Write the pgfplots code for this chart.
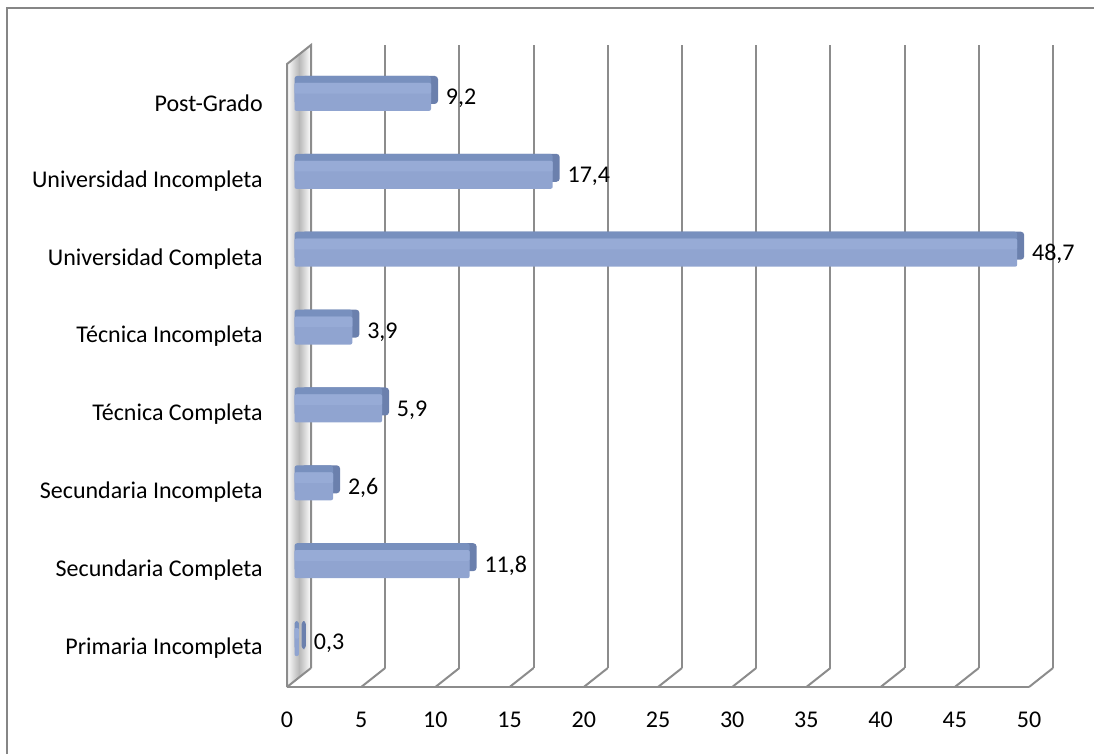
\documentclass[border=0pt]{standalone}
\usepackage{pgfplots}
\pgfplotsset{compat=1.18}
\usetikzlibrary{calc}
\usepackage{fontspec}
\setmainfont{Carlito}
\definecolor{gridgray}{HTML}{8C8C8C}
\definecolor{bordergray}{HTML}{868686}
\definecolor{barface}{HTML}{90A4D0}
\definecolor{barhigh}{HTML}{97ABD6}
\definecolor{beveltop}{HTML}{7890BE}
\definecolor{bevelend}{HTML}{6B80AD}
\begin{document}
\fontsize{18}{21.6}\selectfont
\begin{tikzpicture}
\path[use as bounding box] (0,0) rectangle (820.5pt,565.5pt);
\draw[bordergray, line width=1.7pt] (5.25pt,0) -- (5.25pt,559.5pt) -- (821pt,559.5pt);
\begin{axis}[
  at={(215.25pt,50.25pt)}, anchor=south west,
  scale only axis, width=556.5pt, height=467.25pt,
  xmin=0, xmax=50, ymin=-0.5, ymax=7.5,
  clip=false,
  axis x line*=bottom, axis y line*=left,
  axis line style={draw=none},
  major tick length=0pt, tick style={draw=none},
  xticklabel shift=0pt, yticklabel shift=0pt,
  /pgf/number format/assume math mode=true,
  xtick={0,5,...,50},
  ytick={0,1,...,7},
  yticklabels={Primaria Incompleta, Secundaria Completa, Secundaria Incompleta, Técnica Completa, Técnica Incompleta, Universidad Completa, Universidad Incompleta, Post-Grado},
  xticklabel style={inner sep=0pt, anchor=north, yshift=-18.75pt},
  yticklabel style={inner sep=0pt, anchor=east, xshift=-18pt},
  tick label style={font=\fontsize{18}{21.6}\selectfont, text=black},
]
% left wall
\fill[left color=white, right color=white, middle color=black!28]
  (axis cs:0,-0.5) -- (axis cs:0,7.5) -- ($(axis cs:0,7.5)+(18pt,14.25pt)$) -- ($(axis cs:0,-0.5)+(18pt,14.25pt)$) -- cycle;
\draw[gridgray, line width=1.5pt]
  (axis cs:0,-0.5) -- (axis cs:0,7.5) -- ($(axis cs:0,7.5)+(18pt,14.25pt)$) -- ($(axis cs:0,-0.5)+(18pt,14.25pt)$);
% gridlines
\pgfplotsinvokeforeach{5,10,...,50}{
  \draw[gridgray, line width=1.5pt] ($(axis cs:#1,-0.5)+(18pt,14.25pt)$) -- ($(axis cs:#1,7.5)+(18pt,14.25pt)$);
}
% bars: end face
\addplot[xbar, bar width=21pt, bar shift=0pt, xshift=10.875pt, yshift=9.75pt,
  fill=bevelend, draw=none, rounded corners=2.5pt, forget plot]
  coordinates {(0.3,0) (11.8,1) (2.6,2) (5.9,3) (3.9,4) (48.7,5) (17.4,6) (9.2,7)};
% bars: top face
\addplot[xbar, bar width=21pt, bar shift=0pt, xshift=5.625pt, yshift=9.75pt,
  fill=beveltop, draw=none, rounded corners=2pt, forget plot]
  coordinates {(0.3,0) (11.8,1) (2.6,2) (5.9,3) (3.9,4) (48.7,5) (17.4,6) (9.2,7)};
% bars: front faces
\addplot[xbar, bar width=21pt, bar shift=0pt, xshift=5.625pt, yshift=4.5pt,
  fill=barface, draw=none, rounded corners=1.5pt, forget plot]
  coordinates {(0.3,0) (11.8,1) (2.6,2) (5.9,3) (3.9,4) (48.7,5) (17.4,6) (9.2,7)};
% bars: soft highlight on front faces, with value labels
\addplot[xbar, bar width=8pt, bar shift=0pt, xshift=5.625pt, yshift=11pt,
  fill=barhigh, draw=none, rounded corners=1pt,
  point meta=x,
  nodes near coords={\pgfmathprintnumber[fixed,fixed zerofill,precision=1,use comma,assume math mode=true]{\pgfplotspointmeta}},
  nodes near coords align={horizontal},
  every node near coord/.append style={anchor=west, inner sep=0pt, xshift=11pt, yshift=-7.5pt, text=black, font=\fontsize{18}{21.6}\selectfont}]
  coordinates {(0.3,0) (11.8,1) (2.6,2) (5.9,3) (3.9,4) (48.7,5) (17.4,6) (9.2,7)};
% floor
\draw[gridgray, line width=1.5pt] (axis cs:0,-0.5) -- (axis cs:50,-0.5);
\pgfplotsinvokeforeach{0,5,...,50}{
  \draw[gridgray, line width=1.5pt] (axis cs:#1,-0.5) -- ($(axis cs:#1,-0.5)+(18pt,14.25pt)$);
}
\end{axis}
\end{tikzpicture}
\end{document}
